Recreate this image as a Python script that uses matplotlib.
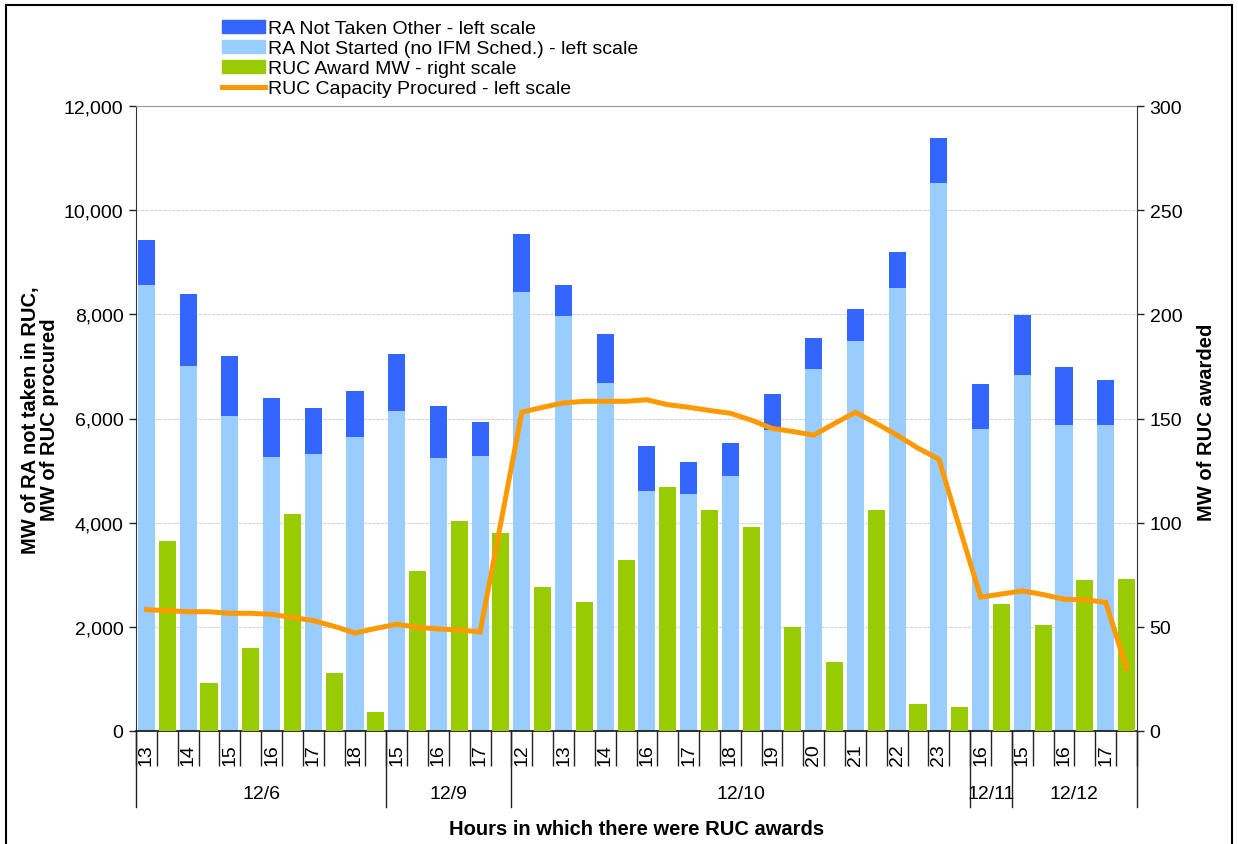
import matplotlib
matplotlib.use("Agg")
import matplotlib.pyplot as plt
import matplotlib.patches as patches
from matplotlib.lines import Line2D
import numpy as np

plt.rcParams['font.family'] = ['Liberation Sans', 'DejaVu Sans']

# categories: (date, hour)
dates = ['12/6', '12/9', '12/10', '12/11', '12/12']
date_hours = [
    ['13', '14', '15', '16', '17', '18'],
    ['15', '16', '17'],
    ['12', '13', '14', '16', '17', '18', '19', '20', '21', '22', '23'],
    ['16'],
    ['15', '16', '17'],
]

# left scale, MW
ra_not_started = [8560, 7010, 6050, 5260, 5320, 5645, 6145, 5240, 5280,
                  8435, 7960, 6680, 4605, 4555, 4900, 5780, 6945, 7485, 8500, 10525,
                  5790, 6835, 5875, 5875]
ra_not_taken_other = [870, 1380, 1150, 1130, 880, 885, 1095, 1000, 650,
                      1110, 610, 935, 860, 610, 630, 690, 610, 610, 705, 860,
                      880, 1150, 1115, 865]
# right scale, MW
ruc_award = [91, 23, 40, 104, 28, 9, 77, 101, 95,
             69, 62, 82, 117, 106, 98, 50, 33, 106, 13, 11.5,
             61, 51, 72.5, 73]
# left scale, one value per slot (hour bar and award bar)
ruc_capacity = [2330, 2310, 2290, 2290, 2260, 2260, 2240, 2180, 2120, 2010,
                1880, 1970, 2050, 1990, 1960, 1940, 1900, 4010, 6120, 6215,
                6300, 6330, 6330, 6330, 6360, 6265, 6215, 6155, 6100, 5970,
                5810, 5750, 5680, 5905, 6120, 5905, 5680, 5430, 5220, 3890,
                2570, 2630, 2690, 2620, 2530, 2520, 2470, 1200]

c_dark = '#3366FF'
c_light = '#99CCFF'
c_green = '#99CC00'
c_orange = '#FF9900'

hours = [h for hs in date_hours for h in hs]
n = len(hours)
x_blue = np.arange(n) * 2
x_green = x_blue + 1
x_line = np.arange(len(ruc_capacity))
w = 0.82
fs = 14

fig = plt.figure(figsize=(12.38, 8.45), dpi=100)
W, H = 1238, 845
ax = fig.add_axes([136 / W, 1 - 732 / H, (1137 - 136) / W, (732 - 107) / H])

ax.bar(x_blue, ra_not_started, w, color=c_light, zorder=2)
ax.bar(x_blue, ra_not_taken_other, w, bottom=ra_not_started, color=c_dark, zorder=2)

ax.set_xlim(-0.5, 2 * n - 0.5)
ax.set_ylim(0, 12000)
ax.set_yticks(np.arange(0, 12001, 2000))
ax.set_yticklabels([f'{v:,}' for v in range(0, 12001, 2000)], fontsize=fs)
ax.yaxis.grid(True, color='#d4d4d4', linestyle=(0, (3, 1)), linewidth=0.8, zorder=0)
ax.set_axisbelow(True)
ax.tick_params(axis='y', direction='out', length=5, width=1, colors='#222222', pad=4)
ax.tick_params(axis='y', labelcolor='black')

ax.set_xticks(x_blue)
ax.set_xticklabels(hours, rotation=90, fontsize=fs, va='top', ha='center')
ax.tick_params(axis='x', which='major', length=0, pad=9)
ax.set_xticks(np.arange(-0.5, 2 * n, 1), minor=True)
ax.tick_params(axis='x', which='minor', length=25, width=1, direction='out', colors='#222222')

ax.spines['right'].set_visible(False)
ax.spines['top'].set_color('#9a9a9a')
ax.spines['left'].set_color('#333333')
ax.spines['bottom'].set_color('#111111')
ax.spines['bottom'].set_linewidth(1.2)

# right scale bars
ax2 = ax.twinx()
ax2.bar(x_green, ruc_award, w, color=c_green, zorder=2)
ax2.set_ylim(0, 300)
ax2.set_yticks(np.arange(0, 301, 50))
ax2.tick_params(axis='y', direction='out', length=5, width=1, colors='#222222', labelsize=fs, pad=4)
ax2.tick_params(axis='y', labelcolor='black')
for s in ['top', 'left', 'bottom']:
    ax2.spines[s].set_visible(False)
ax2.spines['right'].set_color('#333333')

# line on top
ax3 = ax.twinx()
ax3.set_ylim(ax.get_ylim())
ax3.plot(x_line, ruc_capacity, color=c_orange, linewidth=3.6, solid_joinstyle='miter', zorder=3)
ax3.axis('off')
ax3.set_xlim(ax.get_xlim())

# date groups below hour labels
bounds = [-0.5]
for hs in date_hours:
    bounds.append(bounds[-1] + 2 * len(hs))
for b in bounds:
    ax.add_line(Line2D([b, b], [0, -0.1216], transform=ax.get_xaxis_transform(),
                       color='#222222', linewidth=1, clip_on=False))
for d, lo, hi in zip(dates, bounds[:-1], bounds[1:]):
    ax.text((lo + hi) / 2, -0.1, d, transform=ax.get_xaxis_transform(),
            ha='center', va='center', fontsize=fs)

fig.text(637 / W, 1 - 830 / H, 'Hours in which there were RUC awards',
         ha='center', va='center', fontsize=14.5, fontweight='bold')
fig.text(40 / W, 1 - 420 / H, 'MW of RA not taken in RUC,\nMW of RUC procured',
         ha='center', va='center', rotation=90, fontsize=14.5, fontweight='bold',
         multialignment='center', linespacing=1.05)
fig.text(1206 / W, 1 - 422 / H, 'MW of RUC awarded',
         ha='center', va='center', rotation=90, fontsize=14.5, fontweight='bold')

handles = [
    patches.Patch(color=c_dark),
    patches.Patch(color=c_light),
    patches.Patch(color=c_green),
    Line2D([], [], color=c_orange, linewidth=3.6),
]
labels = [
    'RA Not Taken Other - left scale',
    'RA Not Started (no IFM Sched.) - left scale',
    'RUC Award MW - right scale',
    'RUC Capacity Procured - left scale',
]
fig.legend(handles, labels, loc='upper left', bbox_to_anchor=(222 / W, 1 - 21 / H),
           frameon=False, fontsize=fs, borderpad=0, borderaxespad=0,
           handlelength=2.2, handleheight=0.62, handletextpad=0.15, labelspacing=0.15)

# outer frame
fig.add_artist(patches.Rectangle((6 / W, -0.01), (1232 - 6) / W, 1.01 - 6 / H,
                                 transform=fig.transFigure, fill=False,
                                 edgecolor='black', linewidth=1.5))

fig.savefig('out.png', dpi=100)
